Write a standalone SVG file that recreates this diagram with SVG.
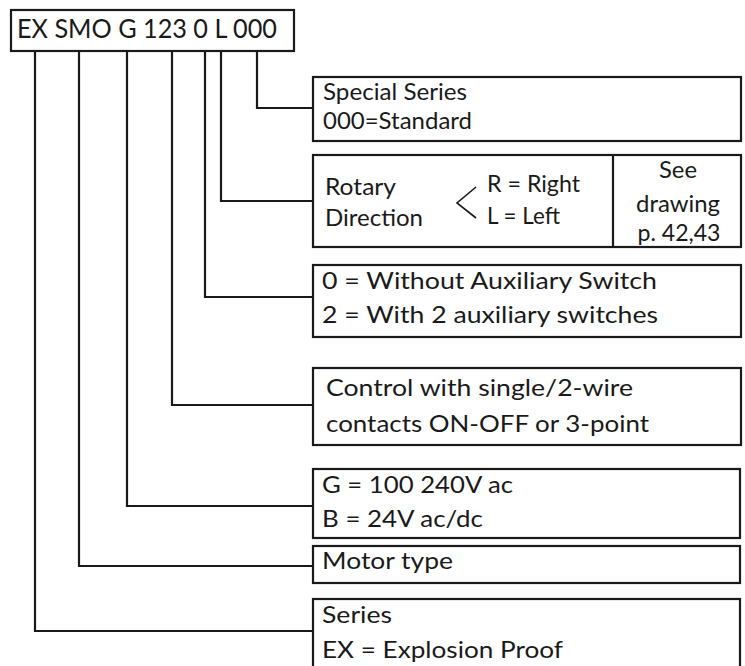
<svg xmlns="http://www.w3.org/2000/svg" width="745" height="666" viewBox="0 0 745 666">
<style>
  .box { fill: #ffffff; stroke: #1a1a1a; stroke-width: 2.2; }
  .conn { fill: none; stroke: #1a1a1a; stroke-width: 2.2; }
  text { font-family: "Lato", "Liberation Sans", sans-serif; fill: #1a1a1a; font-size: 24px; }
  .h { font-size: 26.5px; }
</style>
<rect width="745" height="666" fill="#ffffff"/>
<g id="connectors">
  <polyline class="conn" points="35,51 35,631 313,631"/>
  <polyline class="conn" points="79,51 79,566 313,566"/>
  <polyline class="conn" points="127,51 127,506 313,506"/>
  <polyline class="conn" points="172,51 172,405 313,405"/>
  <polyline class="conn" points="205,51 205,297 313,297"/>
  <polyline class="conn" points="221,51 221,201 313,201"/>
  <polyline class="conn" points="257,51 257,108 313,108"/>
</g>
<g id="code">
  <rect class="box" x="11" y="10" width="283" height="41"/>
  <text class="h" x="17" y="38" textLength="260" lengthAdjust="spacingAndGlyphs">EX SMO G 123 0 L 000</text>
</g>
<g id="special">
  <rect class="box" x="313" y="77" width="428" height="64"/>
  <text x="323" y="100" textLength="144" lengthAdjust="spacingAndGlyphs">Special Series</text>
  <text x="323" y="129" textLength="149" lengthAdjust="spacingAndGlyphs">000=Standard</text>
</g>
<g id="rotary">
  <rect class="box" x="313" y="155" width="428" height="92"/>
  <line class="conn" x1="613" y1="155" x2="613" y2="247"/>
  <text x="325" y="195" textLength="71" lengthAdjust="spacingAndGlyphs">Rotary</text>
  <text x="325" y="226" textLength="98" lengthAdjust="spacingAndGlyphs">Direction</text>
  <polyline fill="none" stroke="#1a1a1a" stroke-width="1.6" points="476,187 457,203 476,218"/>
  <text x="487" y="192" textLength="93" lengthAdjust="spacingAndGlyphs">R = Right</text>
  <text x="487" y="224" textLength="73" lengthAdjust="spacingAndGlyphs">L = Left</text>
  <text x="678" y="178" text-anchor="middle" textLength="38" lengthAdjust="spacingAndGlyphs">See</text>
  <text x="678" y="212" text-anchor="middle" textLength="84" lengthAdjust="spacingAndGlyphs">drawing</text>
  <text x="679" y="241" text-anchor="middle" textLength="83" lengthAdjust="spacingAndGlyphs">p. 42,43</text>
</g>
<g id="aux">
  <rect class="box" x="313" y="265" width="428" height="72"/>
  <text x="322" y="289" textLength="335" lengthAdjust="spacingAndGlyphs">0 = Without Auxiliary Switch</text>
  <text x="322" y="323" textLength="336" lengthAdjust="spacingAndGlyphs">2 = With 2 auxiliary switches</text>
</g>
<g id="control">
  <rect class="box" x="313" y="368" width="428" height="77"/>
  <text x="326" y="396" textLength="307" lengthAdjust="spacingAndGlyphs">Control with single/2-wire</text>
  <text x="326" y="432" textLength="323" lengthAdjust="spacingAndGlyphs">contacts ON-OFF or 3-point</text>
</g>
<g id="voltage">
  <rect class="box" x="313" y="469" width="427" height="69"/>
  <text x="322" y="493" textLength="191" lengthAdjust="spacingAndGlyphs">G = 100 240V ac</text>
  <text x="322" y="527" textLength="161" lengthAdjust="spacingAndGlyphs">B = 24V ac/dc</text>
</g>
<g id="motor">
  <rect class="box" x="313" y="546" width="427" height="37"/>
  <text x="322" y="569" textLength="131" lengthAdjust="spacingAndGlyphs">Motor type</text>
</g>
<g id="series">
  <rect class="box" x="313" y="599" width="427" height="90"/>
  <text x="322" y="623" textLength="70" lengthAdjust="spacingAndGlyphs">Series</text>
  <text x="322" y="658" textLength="241" lengthAdjust="spacingAndGlyphs">EX = Explosion Proof</text>
</g>
</svg>
